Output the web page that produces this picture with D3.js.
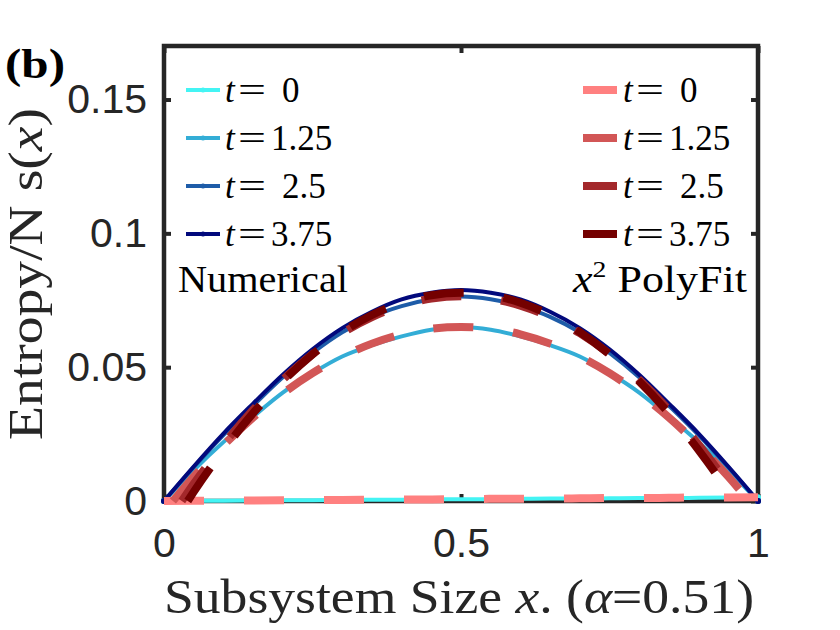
<!DOCTYPE html>
<html>
<head>
<meta charset="utf-8">
<script src="https://cdn.jsdelivr.net/npm/d3@7"></script>
<style>
  body { margin: 0; background: #fff; }
</style>
</head>
<body>
<div id="chart"></div>
<script>
// data
const xNum = [0, 0.05, 0.1, 0.15, 0.2, 0.25, 0.3, 0.35, 0.4, 0.45, 0.5,
              0.55, 0.6, 0.65, 0.7, 0.75, 0.8, 0.85, 0.9, 0.95, 1];

// numerical s(x)
const num_t0    = [0, 0.0001, 0.0001, 0.0002, 0.0003, 0.0003, 0.0004, 0.0005, 0.0005, 0.0006, 0.0007,
                   0.0007, 0.0008, 0.0009, 0.0009, 0.0010, 0.0011, 0.0011, 0.0012, 0.0013, 0.0014];
const num_t125  = [0, 0.0115, 0.0220, 0.0315, 0.0405, 0.0478, 0.0540, 0.0582, 0.0615, 0.0640, 0.0650,
                   0.0640, 0.0615, 0.0582, 0.0540, 0.0478, 0.0405, 0.0315, 0.0220, 0.0115, 0];
const num_t25   = [0, 0.0126, 0.0246, 0.0356, 0.0462, 0.0553, 0.0630, 0.0688, 0.0728, 0.0754, 0.0764,
                   0.0754, 0.0728, 0.0688, 0.0630, 0.0553, 0.0462, 0.0356, 0.0246, 0.0126, 0];
const num_t375  = [0, 0.0129, 0.0252, 0.0364, 0.0472, 0.0567, 0.0646, 0.0707, 0.0753, 0.0778, 0.0788,
                   0.0778, 0.0753, 0.0707, 0.0646, 0.0567, 0.0472, 0.0364, 0.0252, 0.0129, 0];

// x^2 polyfit curves (drawn where positive)
const fitX_t0   = xNum;
const fit_t0    = [0, 0.0001, 0.0001, 0.0002, 0.0003, 0.0004, 0.0004, 0.0005, 0.0006, 0.0006, 0.0007,
                   0.0008, 0.0008, 0.0009, 0.0010, 0.0011, 0.0011, 0.0012, 0.0013, 0.0013, 0.0014];
const fitX_t125 = [0.015, 0.05, 0.1, 0.15, 0.2, 0.25, 0.3, 0.35, 0.4, 0.45, 0.5,
                   0.55, 0.6, 0.65, 0.7, 0.75, 0.8, 0.85, 0.9, 0.95, 0.985];
const fit_t125  = [0, 0.0091, 0.0208, 0.0312, 0.0402, 0.0478, 0.0540, 0.0588, 0.0623, 0.0644, 0.0650,
                   0.0644, 0.0623, 0.0588, 0.0540, 0.0478, 0.0402, 0.0312, 0.0208, 0.0091, 0];
const fitX_t25  = [0.03, 0.05, 0.1, 0.15, 0.2, 0.25, 0.3, 0.35, 0.4, 0.45, 0.5,
                   0.55, 0.6, 0.65, 0.7, 0.75, 0.8, 0.85, 0.9, 0.95, 0.97];
const fit_t25   = [0, 0.0064, 0.0211, 0.0341, 0.0453, 0.0549, 0.0627, 0.0687, 0.0730, 0.0756, 0.0765,
                   0.0756, 0.0730, 0.0687, 0.0627, 0.0549, 0.0453, 0.0341, 0.0211, 0.0064, 0];
const fitX_t375 = [0.04, 0.05, 0.1, 0.15, 0.2, 0.25, 0.3, 0.35, 0.4, 0.45, 0.5,
                   0.55, 0.6, 0.65, 0.7, 0.75, 0.8, 0.85, 0.9, 0.95, 0.96];
const fit_t375  = [0, 0.0034, 0.0190, 0.0328, 0.0447, 0.0548, 0.0631, 0.0695, 0.0741, 0.0769, 0.0778,
                   0.0769, 0.0741, 0.0695, 0.0631, 0.0548, 0.0447, 0.0328, 0.0190, 0.0034, 0];

const legendLabels = ["0", "1.25", "2.5", "3.75"];
const legendPad    = [" ", "", " ", ""];
const xTicks = [0, 0.5, 1];
const xTickLabels = ["0", "0.5", "1"];
const yTicks = [0, 0.05, 0.1, 0.15];
const yTickLabels = ["0", "0.05", "0.1", "0.15"];

const numColors = ["#44F4F4", "#33ADD6", "#1E5CA8", "#02097C"];
const fitColors = ["#FF8080", "#D25656", "#A3282B", "#740000"];

// setting up
const W = 840, H = 630;
const plot = {left: 164, right: 758, top: 46, bottom: 501};
const axisColor = "#262626";
const serif = "'Liberation Serif', 'DejaVu Serif', serif";
const sans = "'Liberation Sans', Arial, sans-serif";

const x = d3.scaleLinear().domain([0, 1]).range([plot.left, plot.right]);
const y = d3.scaleLinear().domain([0, 0.17]).range([plot.bottom, plot.top]);

const svg = d3.select("#chart").append("svg")
    .attr("width", W)
    .attr("height", H)
    .style("background", "#fff");

// axes box + ticks (drawn under the data, like matlab)
const axes = svg.append("g").attr("class", "axes");

const yAxis = d3.axisLeft(y).tickValues(yTicks)
    .tickFormat((d, i) => yTickLabels[i])
    .tickSize(-7).tickPadding(17);
axes.append("g")
    .attr("transform", `translate(${plot.left},0)`)
    .call(yAxis);

axes.append("g")
    .attr("transform", `translate(${plot.right},0)`)
    .call(d3.axisRight(y).tickValues(yTicks).tickFormat("").tickSize(-7));

const xAxis = d3.axisBottom(x).tickValues(xTicks)
    .tickFormat((d, i) => xTickLabels[i])
    .tickSize(-7).tickPadding(27);
axes.append("g")
    .attr("transform", `translate(0,${plot.bottom})`)
    .call(xAxis);

axes.append("g")
    .attr("transform", `translate(0,${plot.top})`)
    .call(d3.axisTop(x).tickValues(xTicks).tickFormat("").tickSize(-7));

axes.selectAll(".domain").remove();
axes.selectAll(".tick line")
    .attr("stroke", axisColor)
    .attr("stroke-width", 4);
axes.selectAll(".tick text")
    .attr("fill", axisColor)
    .attr("font-family", sans)
    .attr("font-size", 41);

axes.append("rect")
    .attr("x", plot.left)
    .attr("y", plot.top)
    .attr("width", plot.right - plot.left)
    .attr("height", plot.bottom - plot.top)
    .attr("fill", "none")
    .attr("stroke", axisColor)
    .attr("stroke-width", 4.5);

// lines
const line = d3.line()
    .x(d => x(d[0]))
    .y(d => y(d[1]))
    .curve(d3.curveMonotoneX);

const numSeries = [num_t0, num_t125, num_t25, num_t375];
const fitSeries = [[fitX_t0, fit_t0], [fitX_t125, fit_t125], [fitX_t25, fit_t25], [fitX_t375, fit_t375]];

const gNum = svg.append("g").attr("class", "numerical");
numSeries.forEach((vals, i) => {
    const pts = xNum.map((xv, k) => [xv, vals[k]]);
    gNum.append("path")
        .datum(pts)
        .attr("d", line)
        .attr("fill", "none")
        .attr("stroke", numColors[i])
        .attr("stroke-width", 4)
        .attr("stroke-linejoin", "round");
    // little end markers
    gNum.selectAll(null)
        .data([pts[0], pts[pts.length - 1]])
        .enter().append("circle")
        .attr("cx", d => x(d[0]))
        .attr("cy", d => y(d[1]))
        .attr("r", 3)
        .attr("fill", numColors[i]);
});

const gFit = svg.append("g").attr("class", "fits");
fitSeries.forEach((s, i) => {
    const pts = s[0].map((xv, k) => [xv, s[1][k]]);
    gFit.append("path")
        .datum(pts)
        .attr("d", line)
        .attr("fill", "none")
        .attr("stroke", fitColors[i])
        .attr("stroke-width", 8)
        .attr("stroke-dasharray", "40,40");
});

// legends
const rowY = [90, 138, 186, 234];

function legendText(g, tx, ty, i) {
    const t = g.append("text")
        .attr("x", tx)
        .attr("y", ty + 12)
        .attr("font-family", serif)
        .attr("font-size", 35)
        .attr("fill", "#000");
    t.append("tspan").attr("font-style", "italic").text("t");
    t.append("tspan")
        .attr("x", tx + 13)
        .attr("textLength", 28)
        .attr("lengthAdjust", "spacingAndGlyphs")
        .text("=");
    t.append("tspan")
        .attr("x", tx + (legendPad[i] === " " ? 57 : 46))
        .text(legendLabels[i]);
}

const legL = svg.append("g").attr("class", "legend-num");
legendLabels.forEach((lab, i) => {
    legL.append("line")
        .attr("x1", 186).attr("x2", 220)
        .attr("y1", rowY[i]).attr("y2", rowY[i])
        .attr("stroke", numColors[i])
        .attr("stroke-width", 4);
    legL.append("circle")
        .attr("cx", 203).attr("cy", rowY[i])
        .attr("r", 2.5)
        .attr("fill", numColors[i]);
    legendText(legL, 225, rowY[i], i);
});
legL.append("text")
    .attr("x", 178)
    .attr("y", 292)
    .attr("font-family", serif)
    .attr("font-size", 38)
    .attr("textLength", 170)
    .attr("lengthAdjust", "spacingAndGlyphs")
    .text("Numerical");

const legR = svg.append("g").attr("class", "legend-fit");
legendLabels.forEach((lab, i) => {
    legR.append("line")
        .attr("x1", 583).attr("x2", 617)
        .attr("y1", rowY[i]).attr("y2", rowY[i])
        .attr("stroke", fitColors[i])
        .attr("stroke-width", 8);
    legendText(legR, 623, rowY[i], i);
});
const pf = legR.append("text")
    .attr("x", 573)
    .attr("y", 292)
    .attr("font-family", serif)
    .attr("font-size", 38)
    .attr("textLength", 174)
    .attr("lengthAdjust", "spacingAndGlyphs");
pf.append("tspan").attr("font-style", "italic").text("x");
pf.append("tspan").attr("font-size", 24).attr("dy", -15).text("2");
pf.append("tspan").attr("dy", 15).text(" PolyFit");

// axis labels
const xl = svg.append("text")
    .attr("x", 459)
    .attr("y", 613)
    .attr("text-anchor", "middle")
    .attr("font-family", serif)
    .attr("font-size", 48)
    .attr("fill", axisColor)
    .attr("textLength", 590)
    .attr("lengthAdjust", "spacingAndGlyphs");
xl.append("tspan").text("Subsystem Size ");
xl.append("tspan").attr("font-style", "italic").text("x");
xl.append("tspan").text(". (");
xl.append("tspan").attr("font-style", "italic").text("α");
xl.append("tspan").text("=0.51)");

const yl = svg.append("text")
    .attr("transform", "translate(42,274) rotate(-90)")
    .attr("text-anchor", "middle")
    .attr("font-family", serif)
    .attr("font-size", 48)
    .attr("fill", axisColor)
    .attr("textLength", 332)
    .attr("lengthAdjust", "spacingAndGlyphs");
yl.append("tspan").text("Entropy/N s(");
yl.append("tspan").attr("font-style", "italic").text("x");
yl.append("tspan").text(")");

// panel tag
svg.append("text")
    .attr("x", 5)
    .attr("y", 78)
    .attr("font-family", serif)
    .attr("font-weight", "bold")
    .attr("font-size", 42)
    .attr("textLength", 60)
    .attr("lengthAdjust", "spacingAndGlyphs")
    .text("(b)");
</script>
</body>
</html>
